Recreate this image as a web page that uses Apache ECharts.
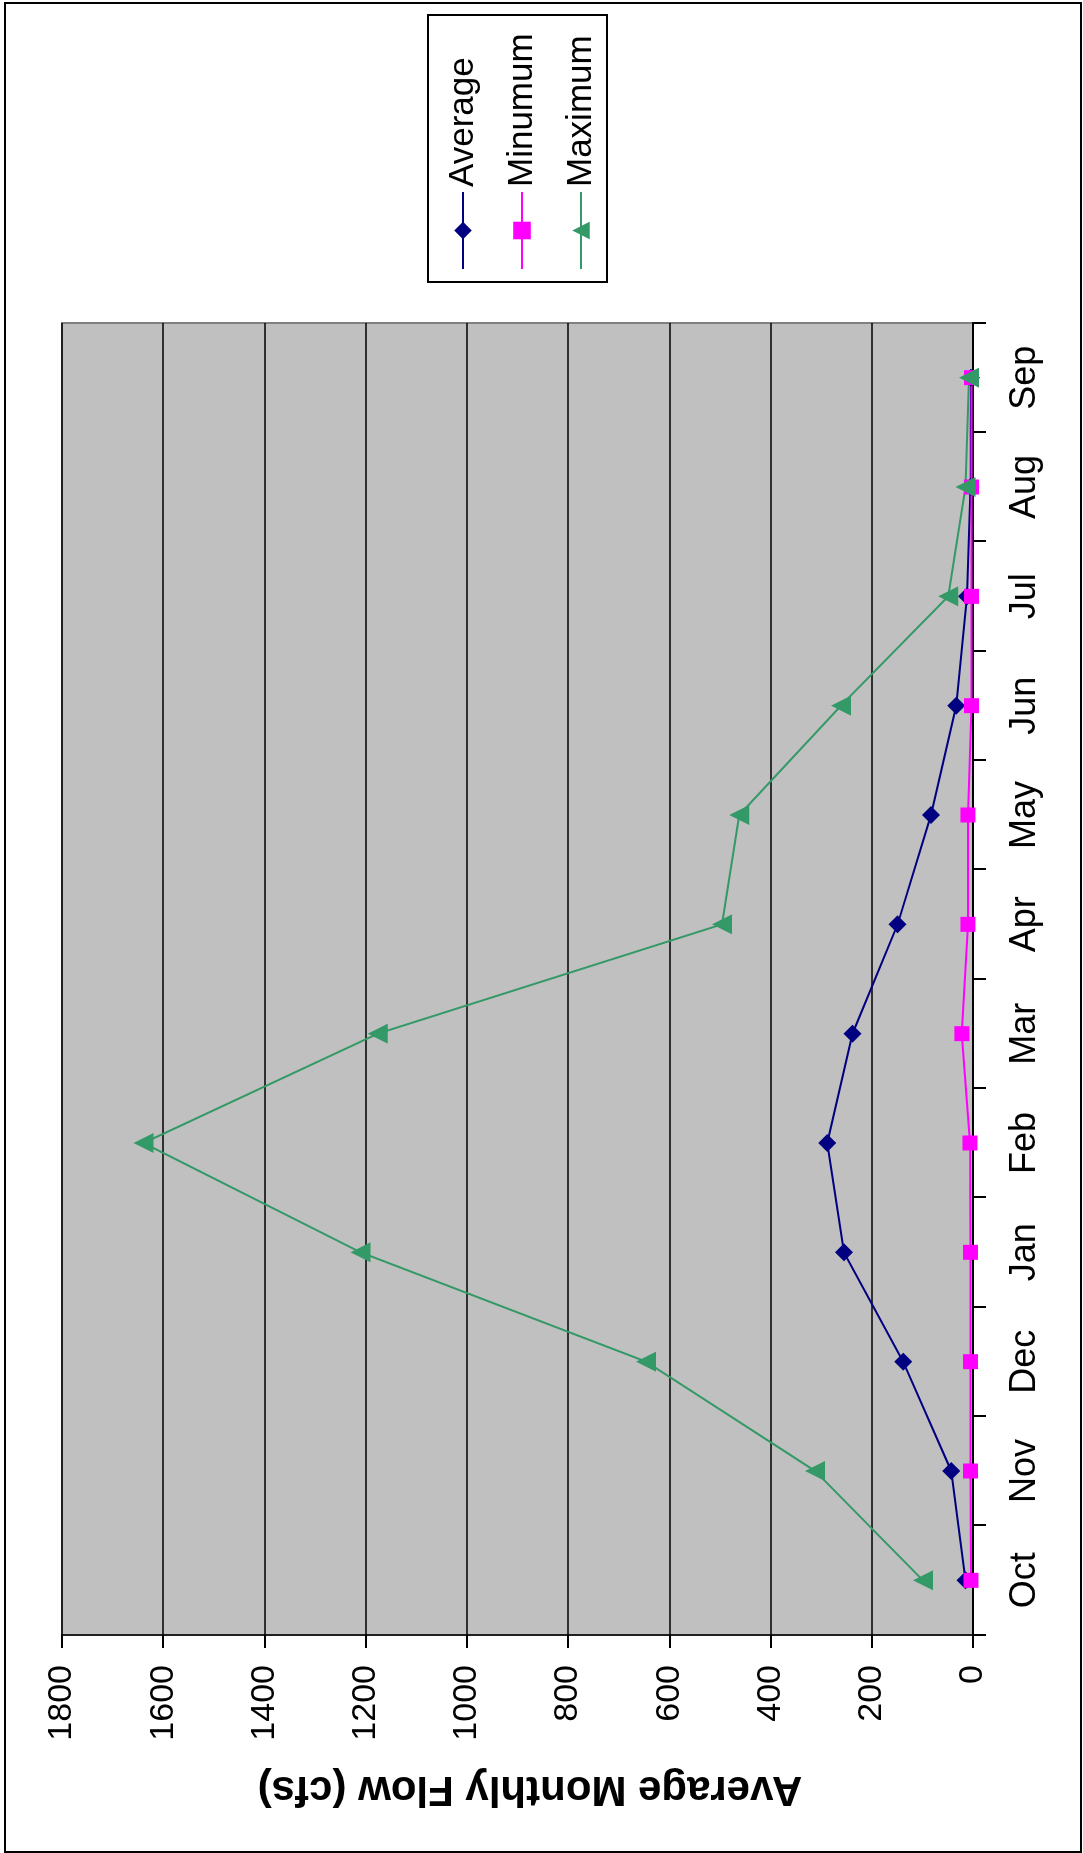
<!DOCTYPE html>
<html>
<head>
<meta charset="utf-8">
<title>Average Monthly Flow</title>
<script src="https://cdn.jsdelivr.net/npm/echarts@6/dist/echarts.min.js"></script>
<style>
  html, body { margin: 0; padding: 0; width: 1083px; height: 1853px; overflow: hidden; background: #fff; }
  /* The chart is laid out landscape and turned a quarter turn to sit upright on the page */
  #chart {
    position: absolute; left: 0; top: 0;
    width: 1853px; height: 1083px;
    transform-origin: 0 0;
    transform: translate(0, 1853px) rotate(-90deg);
  }
</style>
</head>
<body>
<div id="chart"></div>
<script>
// Monthly flow statistics, water year order (cfs)
const months = ['Oct', 'Nov', 'Dec', 'Jan', 'Feb', 'Mar', 'Apr', 'May', 'Jun', 'Jul', 'Aug', 'Sep'];
const averageFlow = [15, 43, 138, 255, 288, 238, 149, 83, 33, 12, 5, 4];
const minimumFlow = [4, 5, 5, 5, 6, 22, 10, 10, 3, 3, 3, 3];
const maximumFlow = [99, 312, 646, 1210, 1639, 1176, 496, 462, 261, 49, 15, 8];
const seriesNames = ['Average', 'Minumum', 'Maximum'];
const flowAxisMin = 0;
const flowAxisMax = 1800;
const flowAxisStep = 200;
const axisTitle = 'Average Monthly Flow (cfs)';

const font = '"Liberation Sans", Arial, Helvetica, sans-serif';

const chart = echarts.init(document.getElementById('chart'), null, { renderer: 'canvas' });

chart.setOption({
  animation: false,
  backgroundColor: '#ffffff',
  grid: {
    left: 218, right: 323, top: 62, bottom: 110,
    show: true,
    backgroundColor: '#C0C0C0',
    borderColor: '#808080',
    borderWidth: 2
  },
  xAxis: {
    type: 'category',
    data: months,
    boundaryGap: true,
    axisLine: { show: true, lineStyle: { color: '#000', width: 2 } },
    axisTick: { show: true, alignWithLabel: false, interval: 0, length: 13, inside: false,
                lineStyle: { color: '#000', width: 2 } },
    axisLabel: { interval: 0, margin: 34, fontSize: 36, fontFamily: font, color: '#000' },
    splitLine: { show: false }
  },
  yAxis: {
    type: 'value',
    min: flowAxisMin, max: flowAxisMax, interval: flowAxisStep,
    axisLine: { show: true, lineStyle: { color: '#000', width: 1.5 } },
    axisTick: { show: true, length: 13, inside: false, lineStyle: { color: '#000', width: 2 } },
    axisLabel: {
      margin: 30, fontSize: 34, fontFamily: font, color: '#000',
      formatter: (v) => String(v)
    },
    splitLine: { show: true, lineStyle: { color: '#000', width: 1.5 } }
  },
  legend: {
    orient: 'vertical',
    left: 1583, top: 443,
    padding: 0,
    itemGap: 19,
    itemWidth: 77,
    itemHeight: 22,
    textStyle: { fontSize: 35, lineHeight: 40, fontFamily: font, color: '#000' },
    data: seriesNames
  },
  graphic: [
    {
      type: 'rect', z: -1, silent: true,
      shape: { x: 1, y: 5, width: 1849, height: 1076 },
      style: { fill: 'none', stroke: '#000', lineWidth: 2 }
    },
    {
      type: 'rect', z: 0, silent: true,
      shape: { x: 1571, y: 428, width: 267, height: 179 },
      style: { fill: '#fff', stroke: '#000', lineWidth: 2 }
    },
    {
      type: 'text', z: 5, silent: true,
      x: 64, y: 530, rotation: Math.PI / 2,
      style: {
        text: axisTitle, fontSize: 42, fontWeight: 'bold', fontFamily: font,
        fill: '#000', align: 'center', verticalAlign: 'middle'
      }
    }
  ],
  series: [
    {
      name: seriesNames[0], type: 'line', data: averageFlow,
      symbol: 'diamond', symbolSize: 18, showAllSymbol: true,
      lineStyle: { color: '#000080', width: 2 },
      itemStyle: { color: '#000080' }
    },
    {
      name: seriesNames[1], type: 'line', data: minimumFlow,
      symbol: 'rect', symbolSize: 15, showAllSymbol: true,
      lineStyle: { color: '#FF00FF', width: 2 },
      itemStyle: { color: '#FF00FF' }
    },
    {
      name: seriesNames[2], type: 'line', data: maximumFlow,
      symbol: 'triangle', symbolSize: 20, showAllSymbol: true,
      lineStyle: { color: '#339966', width: 2 },
      itemStyle: { color: '#339966' }
    }
  ]
});
</script>
</body>
</html>
